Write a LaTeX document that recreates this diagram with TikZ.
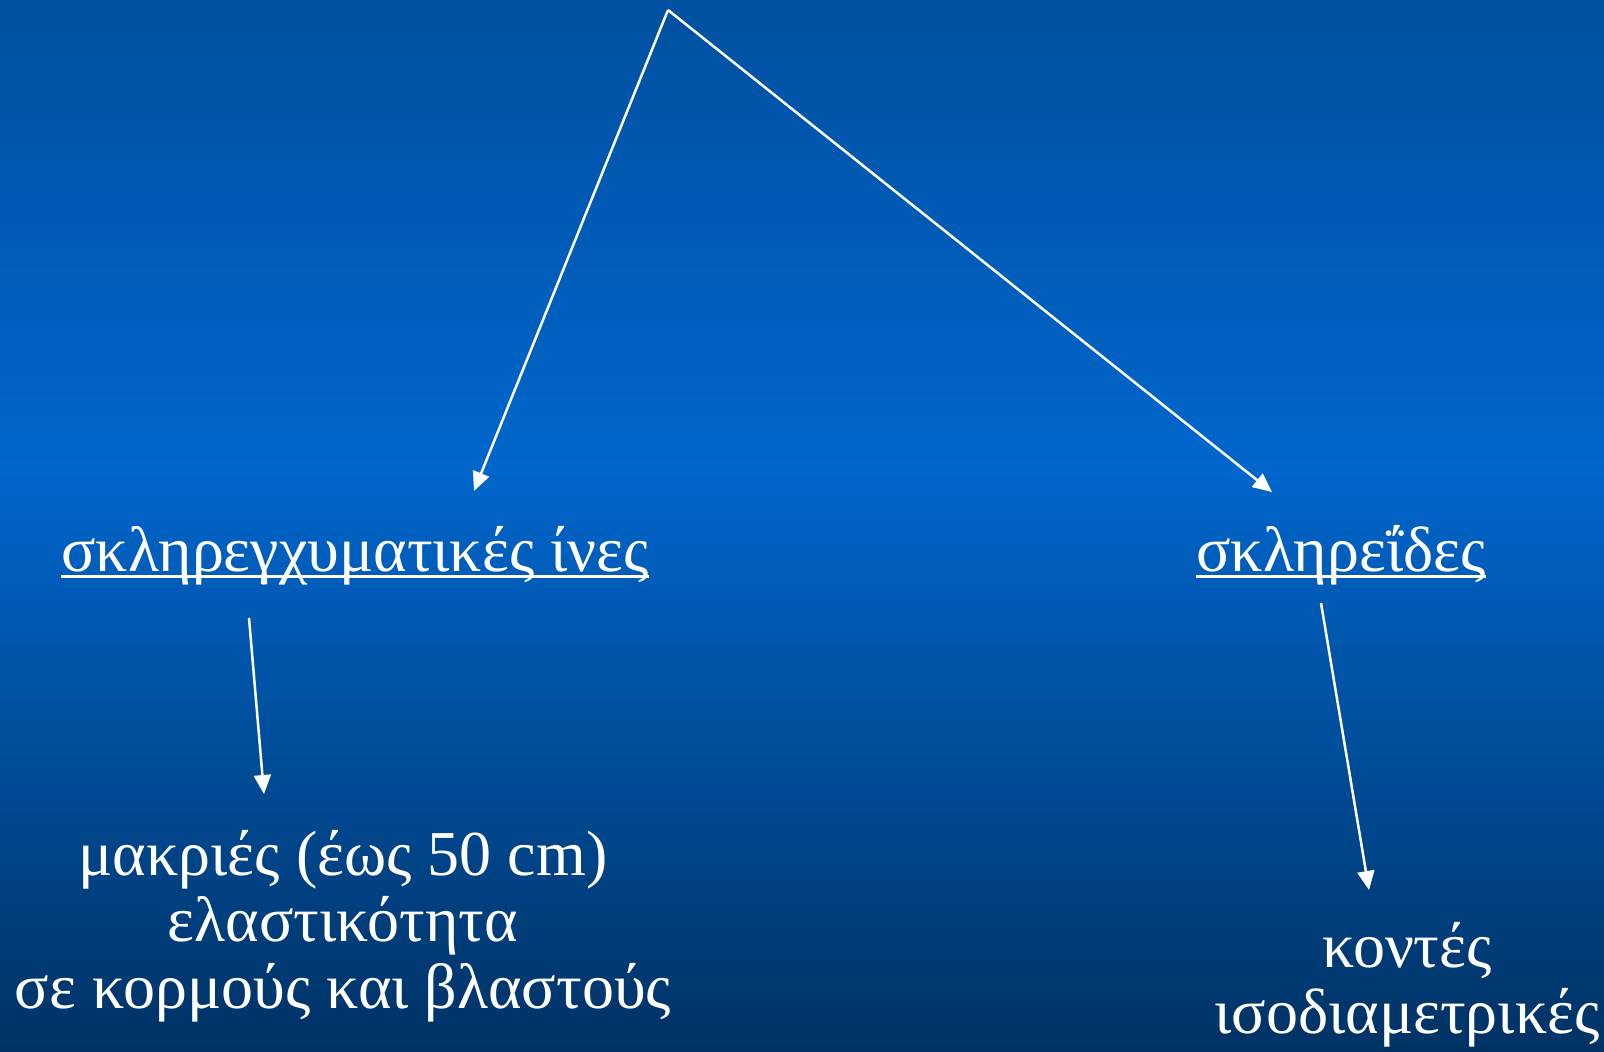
\documentclass[tikz,border=0pt]{standalone}
\usepackage{fontspec}
\setmainfont{Liberation Serif}
\usetikzlibrary{arrows.meta}
\definecolor{bgtop}{RGB}{0,80,160}
\definecolor{bgmid}{RGB}{0,102,204}
\definecolor{bgbot}{RGB}{0,50,100}
\tikzset{
  lbl/.style={text=white, inner sep=0pt, anchor=base, font=\fontsize{64}{66}\selectfont},
  conn/.style={draw=white, line width=2.5pt, -{Triangle[length=19pt,width=17pt]}},
  uline/.style={draw=white, line width=3pt}
}
\begin{document}
\begin{tikzpicture}[x=1pt,y=-1pt]
\useasboundingbox (0,0) rectangle (1604,1052);
\shade[top color=bgtop, bottom color=bgmid] (0,0) rectangle (1604,470);
\shade[top color=bgmid, bottom color=bgbot] (0,469.5) rectangle (1604,1052);

\coordinate (apex) at (668,10);
\node[lbl] (t1) at (355,571) {σκληρεγχυματικές ίνες};
\node[lbl] (t2) at (1341,571) {σκληρεΐδες};
\node[lbl] (l1) at (343,875) {μακριές (έως 50 cm)};
\node[lbl] (l2) at (343,941) {ελαστικότητα};
\node[lbl] (l3) at (343,1008) {σε κορμούς και βλαστούς};
\node[lbl] (r1) at (1407,967) {κοντές};
\node[lbl] (r2) at (1407,1033) {ισοδιαμετρικές};

\draw[uline] ([yshift=-5pt]t1.base west) -- ([yshift=-5pt]t1.base east);
\draw[uline] ([yshift=-5pt]t2.base west) -- ([yshift=-5pt]t2.base east);

\coordinate (e1) at (474,491);
\coordinate (e2) at (1272,492);
\coordinate (s3) at (249,618);
\coordinate (e3) at (264,794);
\coordinate (s4) at (1321,603);
\coordinate (e4) at (1369,890);

\draw[conn] (apex) -- (e1);
\draw[conn] (apex) -- (e2);
\draw[conn] (s3) -- (e3);
\draw[conn] (s4) -- (e4);
\end{tikzpicture}
\end{document}
